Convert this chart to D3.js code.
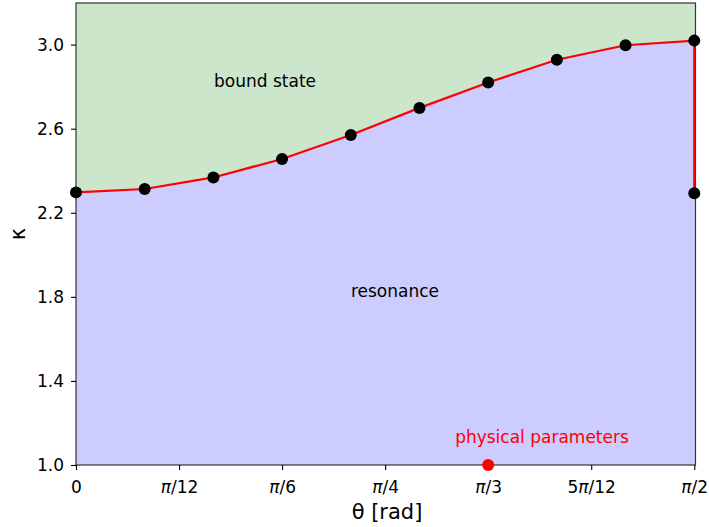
<!DOCTYPE html>
<html>
<head>
<meta charset="utf-8">
<script src="https://cdn.jsdelivr.net/npm/d3@7"></script>
<style>
  body { margin: 0; background: #fff; }
  text { font-family: "DejaVu Sans", sans-serif; fill: #000; }
</style>
</head>
<body>
<div id="chart"></div>
<script>
const PI = Math.PI;

// boundary curve between bound state and resonance
const thetaVals = [0, PI/18, 2*PI/18, 3*PI/18, 4*PI/18, 5*PI/18, 6*PI/18, 7*PI/18, 8*PI/18, PI/2, PI/2];
const kappaVals = [2.297, 2.313, 2.368, 2.456, 2.570, 2.699, 2.820, 2.928, 2.997, 3.019, 2.293];

const xTickVals = [0, PI/12, PI/6, PI/4, PI/3, 5*PI/12, PI/2];
const xTickLabels = [["", "0"], ["π", "/12"], ["π", "/6"], ["π", "/4"], ["π", "/3"], ["5π", "/12"], ["π", "/2"]];
const yTickVals = [1.0, 1.4, 1.8, 2.2, 2.6, 3.0];

const physical = [{theta: PI/3, kappa: 1.0}];

const width = 709, height = 527;
const margin = {left: 76, right: 13.5, top: 3, bottom: 62};
const fs = "17px";
const xMax = PI / 2 * 1.002, yMax = 3.198;

const x = d3.scaleLinear().domain([0, xMax]).range([margin.left, width - margin.right]);
const y = d3.scaleLinear().domain([1.0, yMax]).range([height - margin.bottom, margin.top]);

const svg = d3.select("#chart").append("svg")
    .attr("width", width).attr("height", height);

const pts = thetaVals.map((t, i) => ({theta: t, kappa: kappaVals[i]}));
const curve = pts.slice(0, 10).concat([{theta: xMax, kappa: kappaVals[9]}]);

// green region (bound state) above curve, blue (resonance) below
const areaTop = d3.area().x(d => x(d.theta)).y0(y(yMax)).y1(d => y(d.kappa));
const areaBot = d3.area().x(d => x(d.theta)).y0(y(1.0)).y1(d => y(d.kappa));

svg.append("path").datum(curve).attr("d", areaTop).attr("fill", "#cce6cc");
svg.append("path").datum(curve).attr("d", areaBot).attr("fill", "#ccccff");

// frame
svg.append("rect")
    .attr("x", x(0)).attr("y", y(yMax))
    .attr("width", x(xMax) - x(0)).attr("height", y(1.0) - y(yMax))
    .attr("fill", "none").attr("stroke", "#333").attr("stroke-width", 1.2);

// axes
const xAxis = svg.append("g").attr("transform", `translate(0,${y(1.0)})`)
    .call(d3.axisBottom(x).tickValues(xTickVals).tickSize(5).tickFormat(""));
xAxis.select(".domain").remove();
xAxis.selectAll("line").attr("stroke", "#000").attr("stroke-width", 1.1);
xAxis.selectAll(".tick").append("text")
    .attr("y", 28).attr("text-anchor", "middle").style("font-size", fs)
    .each(function(d, i) {
        const t = d3.select(this);
        const lab = xTickLabels[i];
        if (lab[0] === "5π") {
            t.append("tspan").text("5");
            t.append("tspan").text("π").style("font-style", "italic");
        } else if (lab[0]) {
            t.append("tspan").text(lab[0]).style("font-style", "italic");
        }
        t.append("tspan").text(lab[1]);
    });

const yAxis = svg.append("g").attr("transform", `translate(${x(0)},0)`)
    .call(d3.axisLeft(y).tickValues(yTickVals).tickSize(5).tickFormat(d3.format(".1f")));
yAxis.select(".domain").remove();
yAxis.selectAll("line").attr("stroke", "#000").attr("stroke-width", 1.1);
yAxis.selectAll("text").attr("x", -12).attr("dy", "0.35em").style("font-size", fs).attr("fill", "#000");

// boundary line
svg.append("path").datum(pts)
    .attr("d", d3.line().x(d => x(d.theta)).y(d => y(d.kappa)))
    .attr("fill", "none").attr("stroke", "#ff0000").attr("stroke-width", 2.2);

svg.selectAll(".pt").data(pts).enter().append("circle")
    .attr("class", "pt")
    .attr("cx", d => x(d.theta)).attr("cy", d => y(d.kappa))
    .attr("r", 6).attr("fill", "#000");

// physical parameters
svg.selectAll(".phys").data(physical).enter().append("circle")
    .attr("cx", d => x(d.theta)).attr("cy", d => y(d.kappa))
    .attr("r", 6).attr("fill", "#ff0000");

// annotations
svg.append("text").attr("x", 265).attr("y", 87)
    .attr("text-anchor", "middle").style("font-size", fs).text("bound state");
svg.append("text").attr("x", 395).attr("y", 297)
    .attr("text-anchor", "middle").style("font-size", fs).text("resonance");
svg.append("text").attr("x", 542).attr("y", 443)
    .attr("text-anchor", "middle").style("font-size", fs).style("fill", "#ff0000")
    .text("physical parameters");

// axis labels
svg.append("text").attr("x", 387).attr("y", 519)
    .attr("text-anchor", "middle").style("font-size", "21px").text("θ [rad]");
svg.append("text").attr("transform", `translate(25,${234}) rotate(-90)`)
    .attr("text-anchor", "middle").style("font-size", "21px").text("κ");
</script>
</body>
</html>
